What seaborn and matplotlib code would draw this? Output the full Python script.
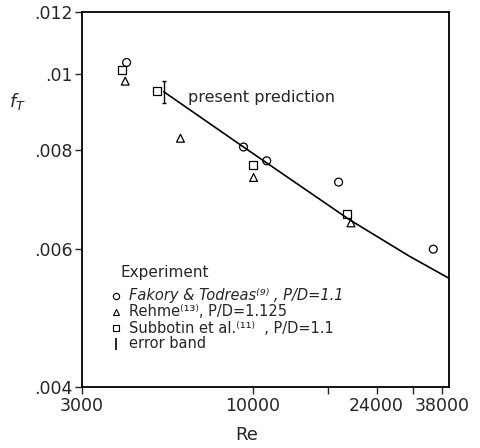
import numpy as np
import pandas as pd
import seaborn as sns
import matplotlib
matplotlib.use("Agg")
import matplotlib.pyplot as plt
from matplotlib.ticker import FixedLocator, NullLocator, FixedFormatter

# ---- data ----
fakory_re = [4110, 9380, 11050, 18350, 35800]
fakory_f = [0.01035, 0.00808, 0.00776, 0.00729, 0.00599]
rehme_re = [4070, 6010, 10070, 20030]
rehme_f = [0.0098, 0.00829, 0.00739, 0.00647]
subbotin_re = [3985, 5097, 10020, 19440]
subbotin_f = [0.01012, 0.00953, 0.00766, 0.00664]
pred_re = [5343, 9380, 19820, 30200, 40000]
pred_f = [0.0095, 0.00808, 0.00653, 0.00587, 0.0055]
err_re = [5343]
err_lo = [0.00919]
err_hi = [0.00979]

xticks = [3000, 10000, 17000, 24000, 31000, 38000]
xticklabels = ["3000", "10000", "", "24000", "", "38000"]
yticks = [0.004, 0.006, 0.008, 0.01, 0.012]
yticklabels = [".004", ".006", ".008", ".01", ".012"]

legend_markers = ["o", "^", "s", "|"]
legend_labels = [
    "Fakory & Todreas\u207d\u2079\u207e , P/D=1.1",
    "Rehme\u207d\u00b9\u00b3\u207e, P/D=1.125",
    "Subbotin et al.\u207d\u00b9\u00b9\u207e  , P/D=1.1",
    "error band",
]

sns.set_style("ticks")
plt.rcParams['font.family'] = ['DejaVu Sans']

fig = plt.figure(figsize=(4.8, 4.48), dpi=100)
ax = fig.add_axes([82/480, 1-387/448, 367/480, 375/448])

sc_kw = dict(s=32, facecolor="none", edgecolor="black", linewidth=0.9, ax=ax, zorder=3)
sns.scatterplot(x=fakory_re, y=fakory_f, marker="o", **sc_kw)
sns.scatterplot(x=rehme_re, y=rehme_f, marker="^", **sc_kw)
sns.scatterplot(x=subbotin_re, y=subbotin_f, marker="s", **sc_kw)
sns.lineplot(x=pred_re, y=pred_f, color="black", linewidth=1.2, ax=ax)

mid = [(lo + hi) / 2 for lo, hi in zip(err_lo, err_hi)]
half = [(hi - lo) / 2 for lo, hi in zip(err_lo, err_hi)]
ax.errorbar(err_re, mid, yerr=half, fmt="none", ecolor="black", elinewidth=1.0, capsize=1.5)

ax.set_xscale("log")
ax.set_yscale("log")
ax.set_xlim(3000, 40000)
ax.set_ylim(0.004, 0.012)
ax.xaxis.set_major_locator(FixedLocator(xticks))
ax.xaxis.set_major_formatter(FixedFormatter(xticklabels))
ax.xaxis.set_minor_locator(NullLocator())
ax.yaxis.set_major_locator(FixedLocator(yticks))
ax.yaxis.set_major_formatter(FixedFormatter(yticklabels))
ax.yaxis.set_minor_locator(NullLocator())
ax.tick_params(axis="both", direction="out", length=5, width=1.0, labelsize=12.5, pad=2)

for s in ax.spines.values():
    s.set_visible(True)
    s.set_linewidth(1.3)
    s.set_color("black")

ax.set_xlabel("")
ax.set_ylabel("")
ax.text(0.45, -0.128, "Re", transform=ax.transAxes, fontsize=13, ha="center", va="center")
ax.text(-0.175, 0.762, r"$f_T$", transform=ax.transAxes, fontsize=13, ha="center", va="center")

ax.text(6320, 0.00933, "present prediction", fontsize=11.5, ha="left", va="center")

# legend block (manual, to match the original tight layout)
ax.text(0.105, 0.304, "Experiment", transform=ax.transAxes, fontsize=11, ha="left", va="center")
row_y = [0.2427, 0.2, 0.1573, 0.1147]
for mk, lab, yy in zip(legend_markers, legend_labels, row_y):
    if mk == "|":
        ax.plot([0.093], [yy], marker="|", ms=8, mew=1.2, color="black",
                transform=ax.transAxes, clip_on=False)
    else:
        ax.plot([0.093], [yy], marker=mk, ms=4.5, mew=0.8, mfc="none", mec="black",
                ls="none", transform=ax.transAxes, clip_on=False)
    t = ax.text(0.128, yy, lab, transform=ax.transAxes, fontsize=10.5, ha="left", va="center")
    if lab.startswith("Fakory"):
        t.set_style("italic")

fig.savefig("out.png", dpi=100)
